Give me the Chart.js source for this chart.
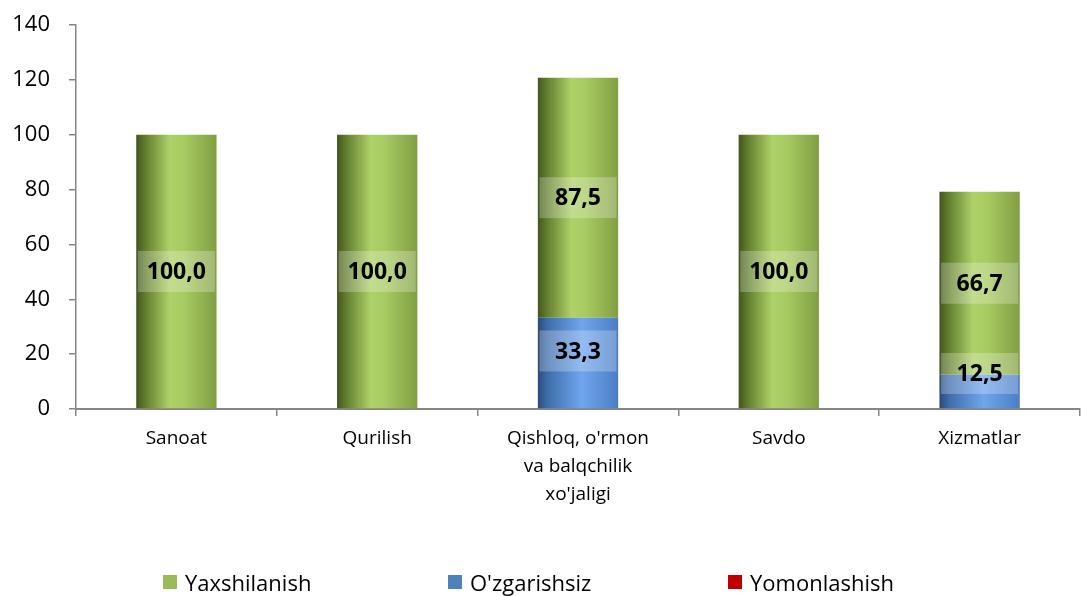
<!DOCTYPE html>
<html>
<head>
<meta charset="utf-8">
<script src="https://cdn.jsdelivr.net/npm/chart.js@4/dist/chart.umd.min.js"></script>
<style>
  html, body { margin: 0; padding: 0; background: #fff; }
  #wrap { position: relative; width: 1082px; height: 596px; overflow: hidden; }
  #legend {
    position: absolute; left: 0; top: 566px; width: 1082px; height: 32px;
    font-family: "Open Sans", sans-serif; font-size: 22px; color: #000;
  }
  .item { position: absolute; top: 0; height: 32px; display: flex; align-items: center; }
  .box { width: 14px; height: 14px; margin-right: 8px; }
</style>
</head>
<body>
<div id="wrap">
  <canvas id="chart" width="1082" height="596"></canvas>
  <div id="legend"></div>
</div>
<script>
const categories = ["Sanoat", "Qurilish", ["Qishloq, o'rmon", "va balqchilik", "xo'jaligi"], "Savdo", "Xizmatlar"];
const seriesNames = ["Yaxshilanish", "O'zgarishsiz", "Yomonlashish"];
const yaxshilanish = [100.0, 100.0, 87.5, 100.0, 66.7];
const ozgarishsiz = [null, null, 33.3, null, 12.5];
const yomonlashish = [null, null, null, null, null];
const yTicks = [0, 20, 40, 60, 80, 100, 120, 140];

const FONT = "'Open Sans', sans-serif";
const BAR_PCT = 0.4;

const legendColors = ["#9bbb59", "#4f81bd", "#c00000"];
const gradStops = {
  green: [[0, "#43561d"], [0.12, "#64802f"], [0.42, "#aed168"], [0.6, "#a7ca61"], [1, "#819f43"]],
  blue: [[0, "#2a4a78"], [0.12, "#3e6dab"], [0.55, "#70a6ee"], [1, "#4a7dc4"]],
  red: [[0, "#800000"], [0.5, "#d01010"], [1, "#a00000"]]
};
// small vertical nudges of the value labels of the lower (blue) segments, as in the original
const blueLabelShift = [0, 0, -12, 0, -18];

function barGradient(key) {
  return (context) => {
    const chart = context.chart;
    const xScale = chart.scales.x;
    if (!xScale || context.dataIndex === undefined) return legendColors[0];
    const cx = xScale.getPixelForValue(context.dataIndex);
    const half = (xScale.width / categories.length) * BAR_PCT / 2;
    if (!isFinite(cx)) return legendColors[0];
    const g = chart.ctx.createLinearGradient(cx - half, 0, cx + half, 0);
    gradStops[key].forEach(([p, c]) => g.addColorStop(p, c));
    return g;
  };
}

// value labels with a light box behind them
const valueLabels = {
  id: "valueLabels",
  afterDatasetsDraw(chart) {
    const ctx = chart.ctx;
    ctx.save();
    chart.data.datasets.forEach((ds, di) => {
      const meta = chart.getDatasetMeta(di);
      meta.data.forEach((bar, i) => {
        const v = ds.data[i];
        if (v === null || v === undefined) return;
        const text = v.toFixed(1).replace(".", ",");
        let cy = (bar.y + bar.base) / 2;
        if (di === 0) cy += blueLabelShift[i];
        const w = 77, h = 41;
        ctx.fillStyle = "rgba(255,255,255,0.25)";
        ctx.fillRect(bar.x - w / 2, cy - h / 2, w, h);
        ctx.fillStyle = "#000";
        ctx.font = "bold 23px " + FONT;
        ctx.textAlign = "center";
        ctx.textBaseline = "middle";
        ctx.fillText(text, bar.x, cy + 1);
      });
    });
    ctx.restore();
  }
};

new Chart(document.getElementById("chart"), {
  type: "bar",
  data: {
    labels: categories,
    datasets: [
      { label: seriesNames[1], data: ozgarishsiz, backgroundColor: barGradient("blue"), borderWidth: 0 },
      { label: seriesNames[0], data: yaxshilanish, backgroundColor: barGradient("green"), borderWidth: 0 },
      { label: seriesNames[2], data: yomonlashish, backgroundColor: barGradient("red"), borderWidth: 0 }
    ]
  },
  options: {
    responsive: false,
    animation: false,
    layout: { padding: { top: 25, right: 2, bottom: 70, left: 0 } },
    plugins: {
      legend: { display: false },
      tooltip: { enabled: false }
    },
    datasets: { bar: { categoryPercentage: 1, barPercentage: BAR_PCT } },
    scales: {
      x: {
        stacked: true,
        grid: { drawOnChartArea: false, drawTicks: true, tickLength: 7, color: "#868686", lineWidth: 1.5 },
        border: { color: "#868686", width: 2 },
        ticks: { color: "#000", font: { family: FONT, size: 19, lineHeight: 1.47 }, padding: 9, maxRotation: 0 },
        afterFit: (scale) => { scale.height = 117; }
      },
      y: {
        stacked: true,
        min: 0,
        max: 140,
        afterBuildTicks: (scale) => { scale.ticks = yTicks.map((v) => ({ value: v })); },
        grid: { drawOnChartArea: false, drawTicks: true, tickLength: 7, color: "#868686", lineWidth: 1.5 },
        border: { color: "#868686", width: 1.5 },
        ticks: { color: "#000", font: { family: FONT, size: 22 }, padding: 19 },
        afterFit: (scale) => {
          scale.width = 76;
          scale.paddingTop = 0;
          scale.paddingBottom = 0;
        }
      }
    }
  },
  plugins: [valueLabels]
});

// legend
const legendPos = [163, 448, 728];
const legendEl = document.getElementById("legend");
seriesNames.forEach((name, i) => {
  const item = document.createElement("div");
  item.className = "item";
  item.style.left = legendPos[i] + "px";
  const box = document.createElement("span");
  box.className = "box";
  box.style.background = legendColors[i];
  const label = document.createElement("span");
  label.textContent = name;
  item.appendChild(box);
  item.appendChild(label);
  legendEl.appendChild(item);
});
</script>
</body>
</html>
